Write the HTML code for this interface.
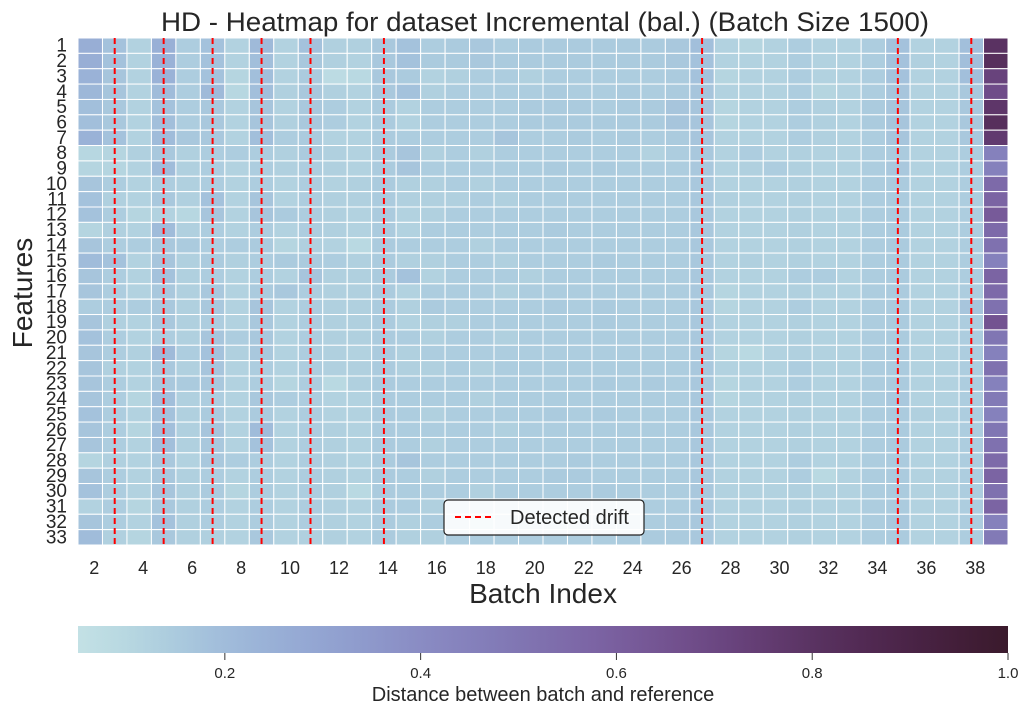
<!DOCTYPE html>
<html><head><meta charset="utf-8"><style>
html,body{margin:0;padding:0;background:#fff;}
svg{display:block;font-family:"Liberation Sans",sans-serif;}
</style></head><body>
<svg id="chart" width="1028" height="716" viewBox="0 0 1028 716">
<defs>
<linearGradient id="cbar" x1="0" x2="1" y1="0" y2="0"></linearGradient>
</defs>
<text x="545" y="31" text-anchor="middle" font-size="27" textLength="768" lengthAdjust="spacingAndGlyphs" fill="#262626">HD - Heatmap for dataset Incremental (bal.) (Batch Size 1500)</text>
<g id="cells"></g>
<g id="drift"></g>
<g id="yticks"></g>
<g id="xticks"></g>
<text x="0" y="0" transform="translate(32,293) rotate(-90)" text-anchor="middle" font-size="28" fill="#262626">Features</text>
<text x="543" y="603" text-anchor="middle" font-size="28" fill="#262626">Batch Index</text>
<g>
<rect x="444" y="500" width="200" height="35" rx="4" fill="#fff" fill-opacity="0.9" stroke="#222" stroke-width="1.2"/>
<line x1="455" y1="517" x2="495" y2="517" stroke="#ff0000" stroke-width="2" stroke-dasharray="6,4"/>
<text x="510" y="524" font-size="20" fill="#262626">Detected drift</text>
</g>
<rect id="cbrect" x="78" y="626" width="930" height="27" fill="url(#cbar)"/>
<g id="cbticks"></g>
<text x="543" y="701" text-anchor="middle" font-size="20" fill="#262626">Distance between batch and reference</text>
</svg>
<script>
const batches = [2,3,4,5,6,7,8,9,10,11,12,13,14,15,16,17,18,19,20,21,22,23,24,25,26,27,28,29,30,31,32,33,34,35,36,37,38,39];
const features = [1,2,3,4,5,6,7,8,9,10,11,12,13,14,15,16,17,18,19,20,21,22,23,24,25,26,27,28,29,30,31,32,33];
const driftBatches = [3,5,7,9,11,14,27,35,38];
const xTickLabels = [2,4,6,8,10,12,14,16,18,20,22,24,26,28,30,32,34,36,38];
const cbTicks = [0.2,0.4,0.6,0.8,1.0];
const vmin = 0.05, vmax = 1.0;
// values x100, one array per batch column (33 features each)
const values = [
[26,26,24,22,19,19,24,10,11,17,18,18,11,17,20,17,17,14,17,18,17,17,17,17,18,17,17,11,17,18,12,17,20],
[18,18,17,17,16,16,18,11,11,14,13,14,13,14,18,14,14,14,13,14,14,13,14,14,14,14,14,13,14,14,14,14,13],
[12,12,12,12,12,12,12,13,12,12,12,11,12,14,12,12,12,14,12,12,13,12,12,11,12,11,12,12,12,12,11,12,11],
[25,24,24,20,18,19,20,16,20,14,16,12,20,16,17,18,16,16,16,14,21,16,16,19,18,19,19,16,16,17,16,18,16],
[14,14,14,14,14,14,16,13,13,13,13,10,13,15,13,13,13,13,13,13,14,13,15,13,13,13,13,12,13,13,13,13,13],
[18,18,18,21,16,16,16,14,14,14,18,17,14,14,15,14,16,16,14,17,18,17,16,14,15,17,16,16,14,15,14,14,13],
[12,12,11,10,12,12,12,14,12,12,12,12,12,14,13,12,12,12,12,14,13,12,12,12,12,12,12,14,12,11,12,12,12],
[21,19,19,19,17,17,19,14,14,14,17,17,14,15,14,14,15,17,16,16,16,14,14,16,15,20,18,14,14,14,14,14,16],
[12,12,12,13,12,13,14,13,13,12,12,15,12,11,15,12,16,12,12,12,12,12,11,14,12,12,12,12,12,12,12,12,12],
[18,16,15,16,16,16,15,15,14,14,14,14,14,13,15,17,14,14,14,14,14,14,14,14,14,14,14,14,14,14,14,14,13],
[13,13,8,13,14,14,12,13,13,12,13,13,13,12,14,13,13,13,13,13,13,13,9,12,12,13,13,13,13,13,13,13,13],
[13,12,9,12,12,12,12,12,12,13,13,12,12,9,13,13,13,13,13,13,12,13,13,12,12,12,12,12,12,9,12,12,12],
[16,16,16,16,15,15,15,15,15,15,15,15,15,15,15,15,15,15,15,15,15,15,15,15,15,15,15,15,15,15,15,15,15],
[18,18,15,18,12,12,14,17,17,13,13,12,12,14,13,18,12,13,12,14,13,13,14,14,14,14,14,17,14,14,14,13,13],
[14,15,12,13,14,14,14,13,14,13,13,13,14,14,13,12,14,15,13,13,14,13,14,14,13,14,13,14,13,14,13,14,13],
[15,15,13,14,14,14,14,14,14,14,13,14,14,14,14,14,14,14,13,14,14,14,14,14,14,14,14,14,14,14,14,14,14],
[16,16,14,14,14,14,14,13,14,13,14,14,14,13,14,14,14,14,14,14,14,13,14,13,14,14,14,14,14,13,14,13,14],
[14,15,14,14,14,14,17,14,14,14,13,14,14,14,13,14,13,14,14,13,14,14,14,14,14,13,14,14,14,14,14,14,14],
[15,15,13,14,15,15,14,14,14,14,14,14,14,14,14,13,14,14,14,14,14,14,14,14,14,14,14,14,14,14,14,14,14],
[15,15,14,15,15,15,14,14,15,14,14,14,15,14,14,14,14,15,14,14,14,14,14,14,15,14,14,14,15,14,14,14,14],
[15,15,14,14,15,15,15,14,14,14,14,14,14,14,14,14,14,14,14,14,14,14,14,14,14,14,14,15,15,14,14,15,14],
[15,15,14,14,14,15,14,14,15,14,14,14,14,14,15,14,14,15,15,14,14,14,15,14,15,14,14,14,14,15,14,14,14],
[15,15,14,15,15,15,15,14,14,14,14,14,14,14,14,14,14,14,14,14,14,14,14,14,14,14,14,14,14,14,14,14,15],
[15,15,14,14,15,15,14,12,14,14,14,14,14,14,14,14,14,14,14,14,14,14,15,14,14,14,14,14,14,14,14,14,15],
[16,16,15,15,17,17,15,14,14,14,14,14,14,14,14,14,14,14,14,14,14,14,14,14,14,14,14,14,14,14,14,15,15],
[19,18,18,17,17,17,17,16,16,16,16,16,16,16,16,16,16,16,16,16,16,16,16,16,16,16,16,16,16,16,16,16,16],
[12,12,11,12,11,11,12,12,12,12,13,12,12,12,12,12,11,11,12,12,11,12,11,11,12,12,12,12,12,12,12,12,12],
[11,12,12,12,12,12,12,14,13,12,12,12,12,12,13,12,12,12,12,12,9,12,12,12,12,12,12,12,12,12,12,12,12],
[12,12,12,12,12,12,12,12,14,12,12,12,12,12,12,12,12,12,12,12,12,12,12,12,12,12,12,12,12,12,12,12,12],
[14,14,14,14,14,14,14,13,13,13,13,13,13,13,13,14,13,14,13,13,13,14,14,13,13,13,13,14,14,13,13,13,13],
[12,12,12,11,13,13,13,12,12,12,12,12,12,12,12,14,12,12,12,12,12,12,12,12,12,12,12,12,9,12,12,12,12],
[12,12,12,12,12,12,12,12,12,12,12,12,12,12,12,12,12,12,12,12,12,12,12,12,12,12,12,12,12,12,12,12,12],
[14,14,14,14,15,15,14,14,14,14,14,14,14,14,14,14,14,14,14,14,14,14,14,14,14,14,14,14,14,14,14,14,14],
[18,18,18,17,17,17,17,15,16,15,15,15,15,15,15,15,15,15,15,15,15,15,15,16,15,15,15,15,15,15,15,16,15],
[12,13,12,12,12,12,12,12,12,12,12,12,12,12,12,12,12,12,12,12,12,12,12,12,13,12,12,12,12,12,12,12,12],
[12,12,12,12,12,12,12,12,12,12,12,12,12,12,12,12,12,12,12,12,12,12,12,12,12,12,12,12,12,12,12,12,12],
[19,19,19,16,16,16,16,14,14,14,14,14,14,14,14,14,14,17,14,14,14,14,14,14,14,14,14,14,14,14,14,14,14],
[80,82,72,68,78,82,76,45,45,55,58,62,55,52,45,58,55,52,65,50,45,52,45,48,45,50,52,55,58,52,58,45,48]
];
const stops=[[0.05,[195,225,229]],[0.1,[183,215,225]],[0.15,[171,203,222]],[0.2,[160,188,218]],[0.3,[146,164,210]],[0.4,[138,140,196]],[0.5,[128,118,179]],[0.6,[122,95,159]],[0.7,[108,71,131]],[0.8,[90,50,98]],[0.9,[74,35,70]],[1.0,[58,26,44]]];
function cmap(v){
  if(v<=stops[0][0]) return 'rgb('+stops[0][1].join(',')+')';
  for(let i=1;i<stops.length;i++){
    if(v<=stops[i][0]){const a=stops[i-1],b=stops[i];const t=(v-a[0])/(b[0]-a[0]);
      return 'rgb('+a[1].map((c,k)=>Math.round(c+(b[1][k]-c)*t)).join(',')+')';}
  }
  return 'rgb('+stops[stops.length-1][1].join(',')+')';
}
const NS='http://www.w3.org/2000/svg';
const X0=78,X1=1008,Y0=38,Y1=545;
const cw=(X1-X0)/batches.length, ch=(Y1-Y0)/features.length;
function xScale(b){return X0+(batches.indexOf(b)+0.5)*cw;}
function yScale(f){return Y0+(features.indexOf(f))*ch;}
function cbScale(v){return X0+(v-vmin)/(vmax-vmin)*(X1-X0);}
const cells=document.getElementById('cells');
batches.forEach((b,ci)=>{features.forEach((f,ri)=>{
  const r=document.createElementNS(NS,'rect');
  r.setAttribute('x',xScale(b)-cw/2);r.setAttribute('y',yScale(f));
  r.setAttribute('width',cw);r.setAttribute('height',ch);
  r.setAttribute('fill',cmap(values[ci][ri]/100));
  r.setAttribute('stroke','#fff');r.setAttribute('stroke-width','1');
  
  
  cells.appendChild(r);
});});
const drift=document.getElementById('drift');
driftBatches.forEach(b=>{
  const l=document.createElementNS(NS,'line');
  const x=xScale(b);
  l.setAttribute('x1',x);l.setAttribute('x2',x);l.setAttribute('y1',Y0);l.setAttribute('y2',Y1);
  l.setAttribute('stroke','#ff0000');l.setAttribute('stroke-width','2');l.setAttribute('stroke-dasharray','6,4');
  
  
  drift.appendChild(l);
});
const yt=document.getElementById('yticks');
features.forEach(f=>{
  const t=document.createElementNS(NS,'text');
  t.setAttribute('x',67);t.setAttribute('y',yScale(f)+ch/2+6);
  t.setAttribute('text-anchor','end');t.setAttribute('font-size','19');t.setAttribute('fill','#262626');
  t.textContent=f;
  
  
  yt.appendChild(t);
});
const xt=document.getElementById('xticks');
xTickLabels.forEach(b=>{
  const t=document.createElementNS(NS,'text');
  t.setAttribute('x',xScale(b)+4);t.setAttribute('y',574);
  t.setAttribute('text-anchor','middle');t.setAttribute('font-size','18');t.setAttribute('fill','#262626');
  t.textContent=b;
  
  
  xt.appendChild(t);
});
const g=document.getElementById('cbar');
for(let i=0;i<=20;i++){const v=vmin+(vmax-vmin)*i/20;const s=document.createElementNS(NS,'stop');
  s.setAttribute('offset',(i/20));s.setAttribute('stop-color',cmap(v));g.appendChild(s);}
const cbt=document.getElementById('cbticks');
cbTicks.forEach(v=>{
  const x=cbScale(v);
  const l=document.createElementNS(NS,'line');
  l.setAttribute('x1',x);l.setAttribute('x2',x);l.setAttribute('y1',653);l.setAttribute('y2',660);
  l.setAttribute('stroke','#333');l.setAttribute('stroke-width','1');
  
  
  cbt.appendChild(l);
  const t=document.createElementNS(NS,'text');
  t.setAttribute('x',x);t.setAttribute('y',678);t.setAttribute('text-anchor','middle');
  t.setAttribute('font-size','15');t.setAttribute('fill','#262626');
  t.textContent=v.toFixed(1);
  
  
  cbt.appendChild(t);
});
</script>
</body></html>
